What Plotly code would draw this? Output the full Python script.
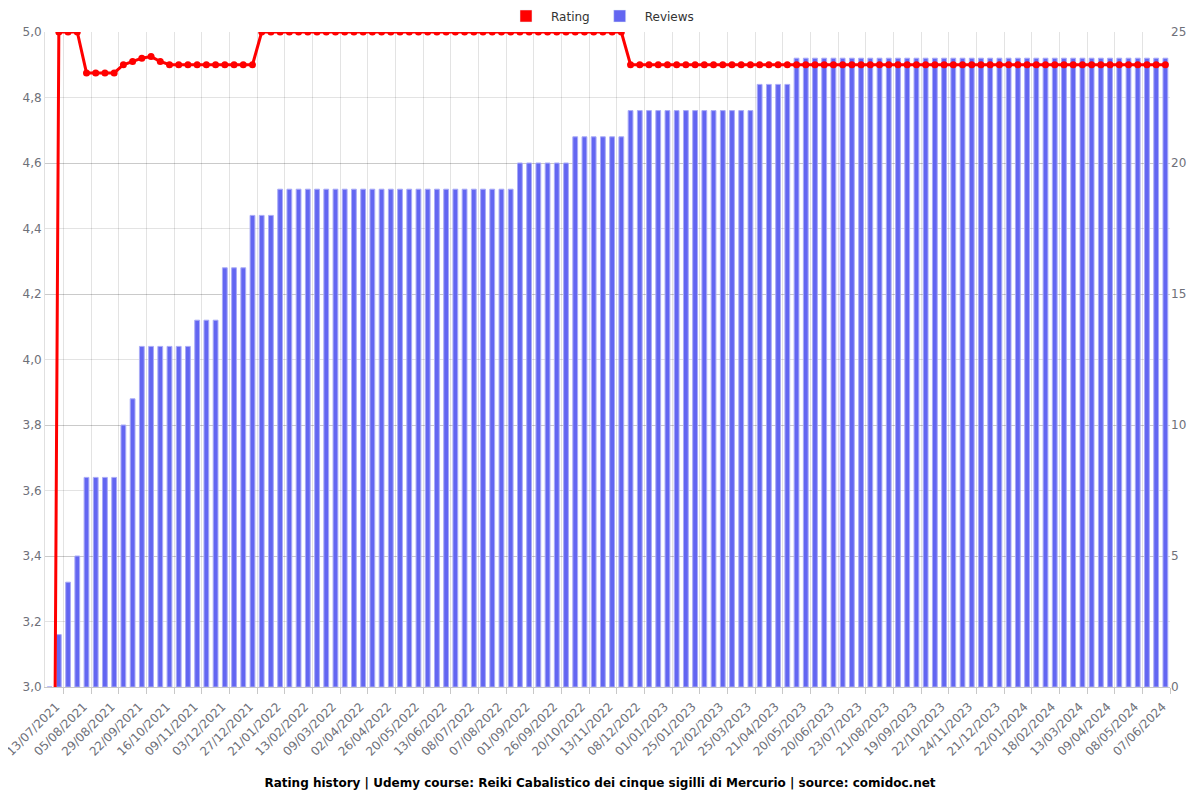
import plotly.graph_objects as go

# reviews per period (bars, right axis)
reviews = [0, 2, 4, 5, 8, 8, 8, 8, 10, 11,
           13, 13, 13, 13, 13, 13, 14, 14, 14, 16,
           16, 16, 18, 18, 18] + [19] * 26 + [20] * 6 + [21] * 6 + [22] * 14 + [23] * 4 + [24] * 41

# average rating per period (line, left axis)
rating = [0, 5.0, 5.0, 5.0, 4.875, 4.875, 4.875, 4.875, 4.9, 4.91,
          4.92, 4.925, 4.91] + [4.9] * 10 + [5.0] * 40 + [4.9] * 59

tick_labels = [
    "13/07/2021", "05/08/2021", "29/08/2021", "22/09/2021", "16/10/2021",
    "09/11/2021", "03/12/2021", "27/12/2021", "21/01/2022", "13/02/2022",
    "09/03/2022", "02/04/2022", "26/04/2022", "20/05/2022", "13/06/2022",
    "08/07/2022", "07/08/2022", "01/09/2022", "26/09/2022", "20/10/2022",
    "13/11/2022", "08/12/2022", "01/01/2023", "25/01/2023", "22/02/2023",
    "25/03/2023", "21/04/2023", "20/05/2023", "20/06/2023", "23/07/2023",
    "21/08/2023", "19/09/2023", "22/10/2023", "24/11/2023", "21/12/2023",
    "22/01/2024", "18/02/2024", "13/03/2024", "09/04/2024", "08/05/2024",
    "07/06/2024",
]
rating_ticks = [3.0, 3.2, 3.4, 3.6, 3.8, 4.0, 4.2, 4.4, 4.6, 4.8, 5.0]
rating_tick_text = ["3,0", "3,2", "3,4", "3,6", "3,8", "4,0", "4,2", "4,4", "4,6", "4,8", "5,0"]

x = list(range(len(reviews)))
label_pos = [p + 0.7 for p in x[::3]]  # rotated text ends slightly right of the bar
grid_pos = [p + 1.5 for p in x[::3]]

FONT = "DejaVu Sans"
GRID = "rgba(0,0,0,0.11)"
BLUE = "#6366f1"
W, H = 1184, 784  # page body keeps an 8px margin

fig = go.Figure()
fig.add_trace(go.Bar(
    x=x, y=reviews, name="Reviews", yaxis="y",
    marker=dict(color=BLUE, line=dict(color="#a9abf7", width=1)),
    showlegend=False,
))
fig.add_trace(go.Scatter(
    x=x, y=rating, name="Rating", yaxis="y2", mode="lines+markers",
    line=dict(color="red", width=3), marker=dict(color="red", size=7),
    showlegend=False,
))
# legend entries drawn as filled boxes like the original
fig.add_trace(go.Bar(x=[None], y=[None], name="Rating", marker_color="red"))
fig.add_trace(go.Bar(x=[None], y=[None], name="Reviews", marker_color=BLUE))

fig.update_layout(
    width=W, height=H,
    paper_bgcolor="white", plot_bgcolor="white",
    font=dict(family=FONT, size=12, color="#6e7079"),
    margin=dict(l=37, r=22, t=24, b=105),
    bargap=0.48,
    title=dict(
        text="<b>Rating history | Udemy course: Reiki Cabalistico dei cinque sigilli di Mercurio | source: comidoc.net</b>",
        x=0.5, xanchor="center", y=9 / H, yanchor="middle", yref="container",
        font=dict(family=FONT, size=12, color="#000"),
    ),
    legend=dict(
        orientation="h", x=0.5, xanchor="center", xref="container",
        y=1 - 8 / H, yanchor="middle", yref="container",
        font=dict(family=FONT, size=12, color="#333"), itemwidth=40,
    ),
    xaxis=dict(
        range=[-0.5, len(x) - 0.5], automargin=False,
        tickmode="array", tickvals=label_pos, ticktext=tick_labels,
        tickangle=-45, showgrid=False, ticks="", tickfont=dict(size=12),
        ticklabelstandoff=7, ticklabeloverflow="allow",
        showline=True, linecolor="#c8c8c8",
        minor=dict(tickmode="array", tickvals=grid_pos, showgrid=True,
                   gridcolor=GRID, ticks="outside", ticklen=6, tickcolor="#c8c8c8"),
    ),
    yaxis=dict(
        side="right", range=[0, 25], dtick=5, showgrid=True, gridcolor=GRID,
        zeroline=False, automargin=False,
    ),
    yaxis2=dict(
        side="left", overlaying="y", range=[3.0, 5.0], automargin=False,
        tickmode="array", tickvals=rating_ticks, ticktext=rating_tick_text,
        showgrid=True, gridcolor=GRID, zeroline=False,
        showline=True, linecolor="#e0e0e0",
    ),
)

fig.write_html("out.html")
